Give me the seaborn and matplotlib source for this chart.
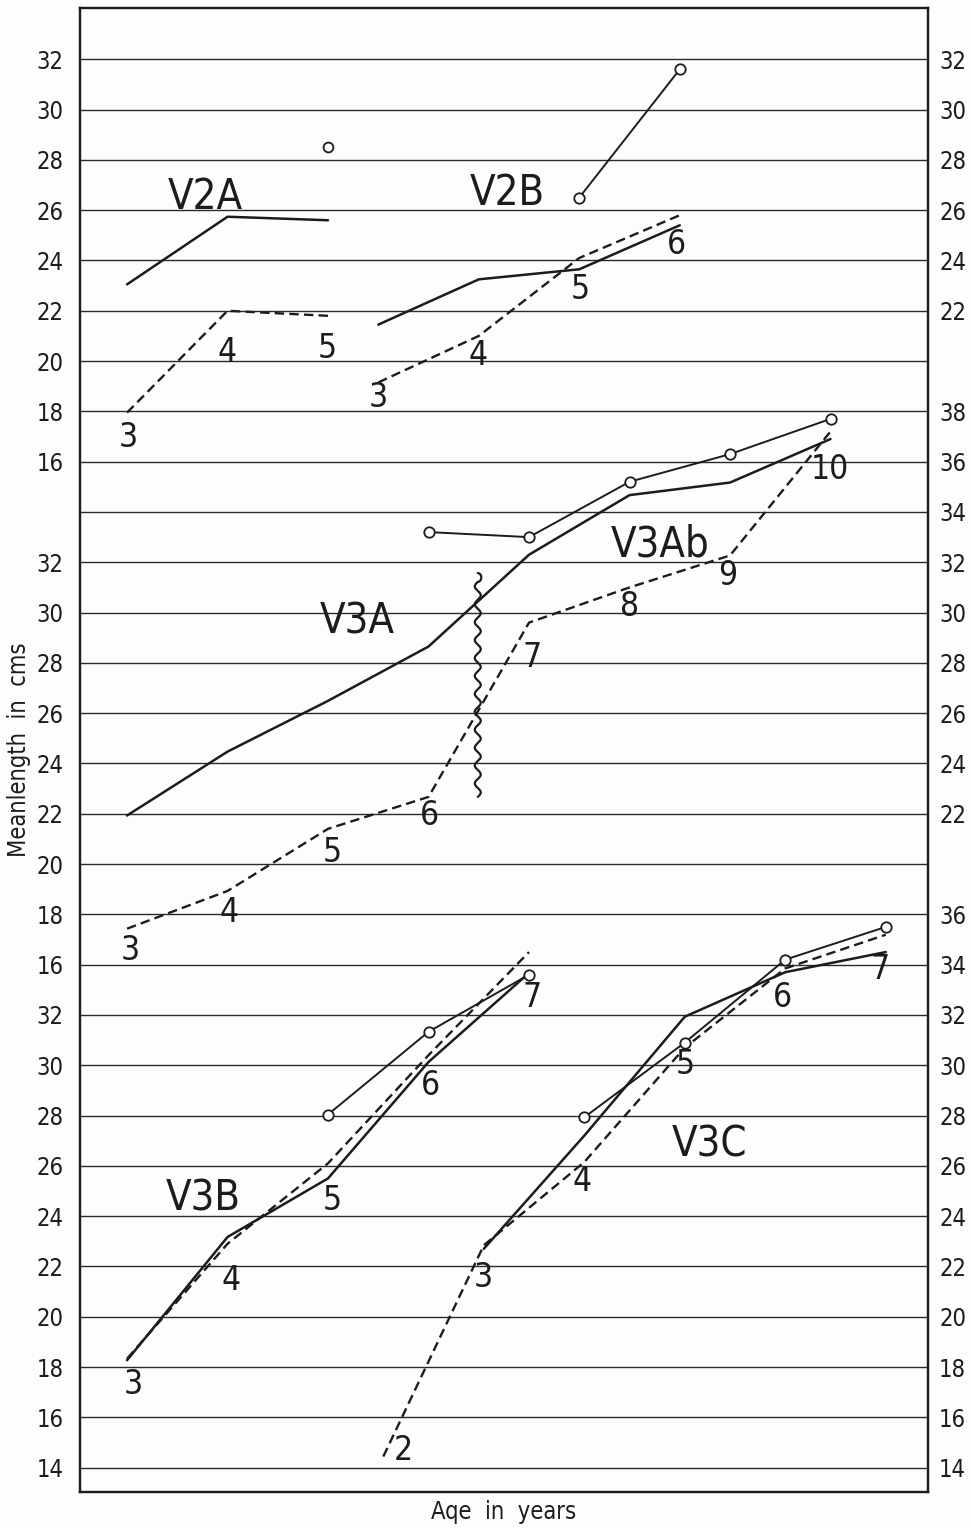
import numpy as np
import pandas as pd
import matplotlib
matplotlib.use("Agg")
import matplotlib.pyplot as plt
import seaborn as sns

# ---------------- data (mean length in cm) ----------------
# V2A  (top panel)
v2a_age = [3, 4, 5]
v2a_solid = [23.05, 25.74, 25.6]
v2a_dashed = [17.95, 22.0, 21.8]
v2a_circle_age = [5]
v2a_circle = [28.5]

# V2B  (top panel, shifted right)
v2b_age = [3, 4, 5, 6]
v2b_solid = [21.45, 23.25, 23.65, 25.4]
v2b_dashed = [19.15, 21.0, 24.1, 25.8]
v2b_circle_age = [5, 6]
v2b_circle = [26.5, 31.6]

# V3A / V3Ab  (middle panel)
v3a_age = [3, 4, 5, 6, 7, 8, 9, 10]
v3a_solid = [21.93, 24.47, 26.49, 28.65, 32.3, 34.67, 35.17, 36.9]
v3a_dashed = [17.43, 18.93, 21.4, 22.67, 29.6, 31.0, 32.27, 37.2]
v3a_circle_age = [6, 7, 8, 9, 10]
v3a_circle = [33.2, 33.0, 35.2, 36.3, 37.7]

# V3B  (bottom panel)
v3b_age = [3, 4, 5, 6, 7]
v3b_solid = [18.27, 23.17, 25.5, 30.13, 33.67]
v3b_dashed = [18.33, 22.9, 26.1, 30.4, 34.5]
v3b_circle_age = [5, 6, 7]
v3b_circle = [28.04, 31.33, 33.6]

# V3C  (bottom panel, shifted right)
v3c_solid_age = [3, 4, 5, 6, 7]
v3c_solid = [22.7, 27.2, 31.93, 33.7, 34.5]
v3c_dashed_age = [2, 3, 4, 5, 6, 7]
v3c_dashed = [14.44, 22.84, 26.15, 30.7, 33.85, 35.19]
v3c_circle_age = [4, 5, 6, 7]
v3c_circle = [27.93, 30.9, 34.2, 35.5]

# scale labels of each stacked panel
left_top_labels = [16, 18, 20, 22, 24, 26, 28, 30, 32]
left_mid_labels = [16, 18, 20, 22, 24, 26, 28, 30, 32]
left_bot_labels = [14, 16, 18, 20, 22, 24, 26, 28, 30, 32]
right_top_labels = [22, 24, 26, 28, 30, 32]
right_mid_labels = [22, 24, 26, 28, 30, 32, 34, 36, 38]
right_bot_labels = [14, 16, 18, 20, 22, 24, 26, 28, 30, 32, 34, 36]

# ---------------- layout ----------------
TOP_DY, MID_DY, BOT_DY = 38, 18, 0       # vertical offsets of stacked scales
V2B_DX, V3C_DX = 2.5, 3.55               # horizontal shifts of right-hand groups
INK = "#1c1c1c"
PAPER = "#fdfdfb"

sns.set_style("white")
plt.rcParams["font.family"] = ["DejaVu Sans"]
plt.rcParams["font.stretch"] = "condensed"

fig = plt.figure(figsize=(9.71, 15.30), dpi=100, facecolor=PAPER)
ax = fig.add_axes([80 / 971, 1 - 1492 / 1530, 848 / 971, 1484 / 1530])
ax.set_facecolor(PAPER)
ax.set_xlim(2.532, 10.97)
ax.set_ylim(13.03, 72.04)


def draw(ages, vals, dx, dy, kind):
    df = pd.DataFrame({"age": np.asarray(ages, float) + dx,
                       "len": np.asarray(vals, float) + dy})
    kw = dict(color=INK, sort=False, estimator=None, legend=False, ax=ax)
    if kind == "solid":
        kw.update(linewidth=1.8)
    elif kind == "dashed":
        kw.update(linewidth=1.7, linestyle=(0, (4.0, 2.2)))
    else:
        kw.update(linewidth=1.4, marker="o", markersize=7.5,
                  markerfacecolor="white", markeredgecolor=INK,
                  markeredgewidth=1.3)
    sns.lineplot(data=df, x="age", y="len", zorder=3, **kw)


draw(v2a_age, v2a_solid, 0, TOP_DY, "solid")
draw(v2a_age, v2a_dashed, 0, TOP_DY, "dashed")
sns.scatterplot(x=np.asarray(v2a_circle_age, float),
                y=np.asarray(v2a_circle) + TOP_DY, ax=ax, s=50,
                facecolor="white", edgecolor=INK, linewidth=1.3, zorder=4,
                legend=False)

draw(v2b_age, v2b_solid, V2B_DX, TOP_DY, "solid")
draw(v2b_age, v2b_dashed, V2B_DX, TOP_DY, "dashed")
draw(v2b_circle_age, v2b_circle, V2B_DX, TOP_DY, "circle")

draw(v3a_age, v3a_solid, 0, MID_DY, "solid")
draw(v3a_age, v3a_dashed, 0, MID_DY, "dashed")
draw(v3a_circle_age, v3a_circle, 0, MID_DY, "circle")

draw(v3b_age, v3b_solid, 0, BOT_DY, "solid")
draw(v3b_age, v3b_dashed, 0, BOT_DY, "dashed")
draw(v3b_circle_age, v3b_circle, 0, BOT_DY, "circle")

draw(v3c_solid_age, v3c_solid, V3C_DX, BOT_DY, "solid")
draw(v3c_dashed_age, v3c_dashed, V3C_DX, BOT_DY, "dashed")
draw(v3c_circle_age, v3c_circle, V3C_DX, BOT_DY, "circle")

# wavy break line between the V3A and V3Ab parts
t = np.linspace(0, 1, 400)
wy = 40.67 + (49.22 - 40.67) * t
wx = 6.49 + 0.03 * np.sin(2 * np.pi * 12 * t)
ax.plot(wx, wy, color=INK, lw=1.6, zorder=3)
hook = np.linspace(0, np.pi, 30)
ax.plot(6.49 + 0.035 * np.sin(hook), 49.22 + 0.35 * (1 - np.cos(hook)) / 2,
        color=INK, lw=1.6, zorder=3)

# ---------------- grid and scales ----------------
grid_vals = list(range(14, 71, 2))
left_map, right_map = {}, {}
for v in left_bot_labels:
    left_map[v + BOT_DY] = str(v)
for v in left_mid_labels:
    left_map[v + MID_DY] = str(v)
for v in left_top_labels:
    left_map[v + TOP_DY] = str(v)
for v in right_bot_labels:
    right_map[v + BOT_DY] = str(v)
for v in right_mid_labels:
    right_map[v + MID_DY] = str(v)
for v in right_top_labels:
    right_map[v + TOP_DY] = str(v)

ax.set_yticks(grid_vals)
ax.set_yticklabels([left_map.get(g, "") for g in grid_vals])
ax.set_xticks([])
ax.grid(axis="y", color="#2a2a2a", linewidth=1.0)
ax.set_axisbelow(True)
ax.tick_params(axis="y", length=0, pad=12, labelsize=17, labelcolor=INK)

ax2 = ax.twinx()
ax2.set_ylim(ax.get_ylim())
ax2.set_yticks(grid_vals)
ax2.set_yticklabels([right_map.get(g, "") for g in grid_vals])
ax2.tick_params(axis="y", length=0, pad=8, labelsize=17, labelcolor=INK)
for a in (ax, ax2):
    for s in a.spines.values():
        s.set_color(INK)
        s.set_linewidth(1.6)

ax.set_ylabel("Meanlength  in  cms", fontsize=17, color=INK, labelpad=4)
ax.set_xlabel("Aqe  in  years", fontsize=17, color=INK, labelpad=6)

# ---------------- annotations ----------------
def lab(x, y, s, size=24):
    ax.text(x, y, s, fontsize=size, color=INK, ha="center", va="center", zorder=5)

BIG = 30
lab(3.776, 64.52, "V2A", BIG)
lab(6.78, 64.68, "V2B", BIG)
lab(5.29, 47.63, "V3A", BIG)
lab(8.30, 50.69, "V3Ab", BIG)
lab(3.76, 24.72, "V3B", BIG)
lab(8.80, 26.83, "V3C", BIG)

for x, y, s in [(3.01, 54.98, "3"), (3.995, 58.36, "4"), (4.99, 58.52, "5"),
                (5.50, 56.57, "3"), (6.49, 58.24, "4"), (7.51, 60.83, "5"), (8.47, 62.62, "6"),
                (3.03, 34.58, "3"), (4.02, 36.06, "4"), (5.04, 38.44, "5"), (6.01, 39.95, "6"),
                (7.03, 46.2, "7"), (8.0, 48.26, "8"), (8.98, 49.46, "9"), (9.99, 53.67, "10"),
                (3.06, 17.29, "3"), (4.04, 21.46, "4"), (5.04, 24.64, "5"), (6.02, 29.18, "6"),
                (7.03, 32.68, "7"),
                (5.75, 14.7, "2"), (6.54, 21.54, "3"), (7.53, 25.36, "4"), (8.55, 30.01, "5"),
                (9.52, 32.68, "6"), (10.49, 33.79, "7")]:
    lab(x, y, s)

fig.savefig("out.png", dpi=100, facecolor=PAPER)
